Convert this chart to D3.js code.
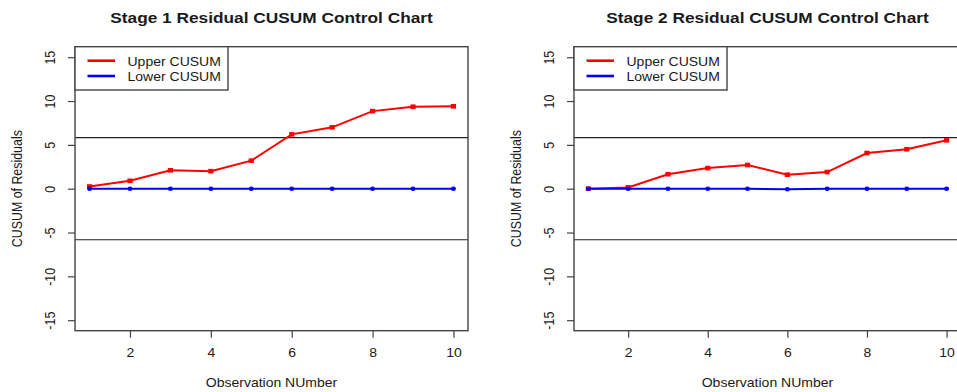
<!DOCTYPE html>
<html>
<head>
<meta charset="utf-8">
<script src="https://cdn.jsdelivr.net/npm/d3@7"></script>
<style>
  html, body { margin: 0; padding: 0; background: #fff; }
  svg { display: block; }
</style>
</head>
<body>
<svg id="chart" width="957" height="392"></svg>
<script>
// ---- data ----
const observations = [1, 2, 3, 4, 5, 6, 7, 8, 9, 10];
const stage1Upper = [0.25, 0.9, 2.1, 2.0, 3.2, 6.2, 7.0, 8.85, 9.35, 9.4];
const stage1Lower = [0, 0, 0, 0, 0, 0, 0, 0, 0, 0];
const stage2Upper = [0.0, 0.15, 1.65, 2.35, 2.7, 1.6, 1.9, 4.07, 4.5, 5.52];
const stage2Lower = [0, 0, 0, 0, 0, -0.07, 0, 0, 0, 0];
const controlLimit = 5.83;
const yTicks = [-15, -10, -5, 0, 5, 10, 15];
const xTicks = [2, 4, 6, 8, 10];
const seriesNames = ["Upper CUSUM", "Lower CUSUM"];
const seriesColors = ["#ff0000", "#0000ff"];
const panelTitles = ["Stage 1 Residual CUSUM Control Chart", "Stage 2 Residual CUSUM Control Chart"];
const xLabel = "Observation NUmber";
const yLabel = "CUSUM of Residuals";

// ---- layout ----
const SX = 1.13;            // horizontal glyph stretch
const FONT = "'Liberation Sans', Arial, Helvetica, sans-serif";
const FS = 12.4;
const TITLE_FS = 15.3;
const TEXT = "#1a1a1a";
const plotTop = 46.7, plotBottom = 330.7;

const panels = [
  { left: 75,  right: 468,   title: panelTitles[0], upper: stage1Upper, lower: stage1Lower },
  { left: 574, right: 960.9, title: panelTitles[1], upper: stage2Upper, lower: stage2Lower }
];

const svg = d3.select("#chart");
svg.append("rect").attr("width", 957).attr("height", 392).attr("fill", "#fff");

// text helper: places text at (x, y) with the horizontal stretch, optionally rotated
function label(parent, str, x, y, opts = {}) {
  const rot = opts.rotate ? " rotate(-90)" : "";
  return parent.append("text")
    .attr("transform", `translate(${x},${y}) scale(${SX},1)${rot}`)
    .attr("text-anchor", opts.anchor || "middle")
    .attr("font-family", FONT)
    .attr("font-size", opts.size || FS)
    .attr("font-weight", opts.weight || "normal")
    .attr("fill", TEXT)
    .text(str);
}

panels.forEach((p, i) => {
  const g = svg.append("g");
  const x = d3.scaleLinear().domain([0.64, 10.36]).range([p.left, p.right]);
  const y = d3.scaleLinear().domain([-16.2, 16.2]).range([plotBottom, plotTop]);

  const clipId = "clip" + i;
  g.append("clipPath").attr("id", clipId)
    .append("rect").attr("x", p.left).attr("y", plotTop)
    .attr("width", p.right - p.left).attr("height", plotBottom - plotTop);

  const plot = g.append("g").attr("clip-path", `url(#${clipId})`);

  // control limits
  [controlLimit, -controlLimit].forEach(h => {
    plot.append("line")
      .attr("x1", p.left).attr("x2", p.right)
      .attr("y1", y(h)).attr("y2", y(h))
      .attr("stroke", "#222").attr("stroke-width", 1.1);
  });

  const line = d3.line().x((d, j) => x(observations[j])).y(d => y(d));

  // upper series: line with square markers
  plot.append("path").datum(p.upper)
    .attr("d", line).attr("fill", "none")
    .attr("stroke", seriesColors[0]).attr("stroke-width", 2);
  plot.selectAll(".sq").data(p.upper).join("rect")
    .attr("class", "sq")
    .attr("x", (d, j) => x(observations[j]) - 2.6)
    .attr("y", d => y(d) - 2.3)
    .attr("width", 5.2).attr("height", 4.6)
    .attr("fill", seriesColors[0]);

  // lower series: line with round markers
  plot.append("path").datum(p.lower)
    .attr("d", line).attr("fill", "none")
    .attr("stroke", seriesColors[1]).attr("stroke-width", 2);
  plot.selectAll(".pt").data(p.lower).join("ellipse")
    .attr("class", "pt")
    .attr("cx", (d, j) => x(observations[j]))
    .attr("cy", d => y(d))
    .attr("rx", 2.5).attr("ry", 2.2)
    .attr("fill", seriesColors[1]);

  // plot box
  g.append("rect")
    .attr("x", p.left).attr("y", plotTop)
    .attr("width", p.right - p.left).attr("height", plotBottom - plotTop)
    .attr("fill", "none").attr("stroke", "#444").attr("stroke-width", 1.4);

  // y axis
  const ya = g.append("g").attr("transform", `translate(${p.left},0)`)
    .call(d3.axisLeft(y).tickValues(yTicks).tickSize(7).tickSizeOuter(0)
      .tickFormat(d => String(d)));
  ya.select(".domain").remove();
  ya.selectAll(".tick line").attr("stroke", "#444").attr("stroke-width", 1.2);
  ya.selectAll(".tick text")
    .attr("x", null).attr("dy", null)
    .attr("text-anchor", "middle")
    .attr("transform", `translate(-20,0) scale(${SX},1) rotate(-90)`)
    .attr("font-family", FONT).attr("font-size", FS).attr("fill", TEXT);
  ya.attr("font-family", null).attr("font-size", null);

  // x axis
  const xa = g.append("g").attr("transform", `translate(0,${plotBottom})`)
    .call(d3.axisBottom(x).tickValues(xTicks).tickSize(7).tickSizeOuter(0)
      .tickFormat(d => String(d)));
  xa.select(".domain").remove();
  xa.selectAll(".tick line").attr("stroke", "#444").attr("stroke-width", 1.2);
  xa.selectAll(".tick text")
    .attr("y", null).attr("dy", null)
    .attr("text-anchor", "middle")
    .attr("transform", `translate(0,26.6) scale(${SX},1)`)
    .attr("font-family", FONT).attr("font-size", FS).attr("fill", TEXT);
  xa.attr("font-family", null).attr("font-size", null);

  // legend
  const lg = g.append("g").attr("transform", `translate(${p.left},${plotTop})`);
  lg.append("rect").attr("x", 0).attr("y", 0).attr("width", 153).attr("height", 43.3)
    .attr("fill", "#fff").attr("stroke", "#444").attr("stroke-width", 1.4);
  seriesNames.forEach((name, k) => {
    const ly = 14 + k * 15.3;
    lg.append("line").attr("x1", 12.5).attr("x2", 40).attr("y1", ly).attr("y2", ly)
      .attr("stroke", seriesColors[k]).attr("stroke-width", 2.6);
    label(lg, name, 52.5, ly + 5.2, { anchor: "start" });
  });

  // titles and axis labels
  const cx = (p.left + p.right) / 2;
  label(g, p.title, cx, 22.7, { size: TITLE_FS, weight: "bold" });
  label(g, xLabel, cx, 387.3);
  label(g, yLabel, p.left - 53.5, (plotTop + plotBottom) / 2, { rotate: true });
});
</script>
</body>
</html>
